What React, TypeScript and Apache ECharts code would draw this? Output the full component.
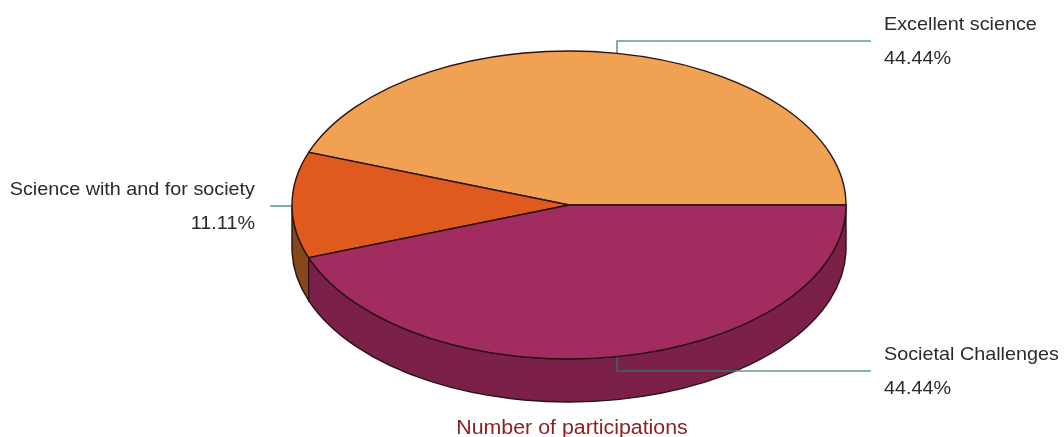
import React, { useEffect, useRef } from "react";
import * as echarts from "echarts";

const categories = ["Excellent science", "Science with and for society", "Societal Challenges"];
const participations = [4, 1, 4];
const topColors = ["#F0A252", "#DF5A1C", "#A02C60"];
const wallColors = ["#8A5A2A", "#85481A", "#7B2149"];
const chartTitle = "Number of participations";

const CX = 569;
const CY = 205;
const RX = 277;
const RY = 154;
const DEPTH = 43;
const EDGE = "#2a1210";
const LEADER = "#5E9C8C";
const LEADER_ON_WALL = "#3F4F49";
const FONT_FAMILY = '"Liberation Sans", Arial, sans-serif';
const LABEL_FONT = `18px ${FONT_FAMILY}`;
const LABEL_STRETCH = 1.1;
const TITLE_STRETCH = 1.09;

const total = participations.reduce((a, b) => a + b, 0);
const angles = (i: number) => {
  const before = participations.slice(0, i).reduce((a, b) => a + b, 0);
  const a0 = (before / total) * Math.PI * 2;
  const a1 = ((before + participations[i]) / total) * Math.PI * 2;
  return [a0, a1];
};
// Angles run anticlockwise from 3 o'clock, as on the reference.
const px = (a: number) => CX + RX * Math.cos(a);
const py = (a: number, d = 0) => CY - RY * Math.sin(a) + d;

function topPath(a0: number, a1: number) {
  const large = a1 - a0 > Math.PI ? 1 : 0;
  return `M${CX} ${CY}L${px(a0)} ${py(a0)}A${RX} ${RY} 0 ${large} 0 ${px(a1)} ${py(a1)}Z`;
}

function wallPath(a0: number, a1: number) {
  const s = Math.max(a0, Math.PI);
  const e = Math.min(a1, Math.PI * 2);
  if (e <= s) return "";
  return (
    `M${px(s)} ${py(s)}A${RX} ${RY} 0 0 0 ${px(e)} ${py(e)}` +
    `L${px(e)} ${py(e, DEPTH)}A${RX} ${RY} 0 0 1 ${px(s)} ${py(s, DEPTH)}Z`
  );
}

const walls = (_p: any, api: any) => {
  const i = api.value(0);
  const [a0, a1] = angles(i);
  const d = wallPath(a0, a1);
  if (!d) return { type: "group", children: [] };
  return {
    type: "path",
    shape: { pathData: d },
    style: { fill: wallColors[i], stroke: EDGE, lineWidth: 1.4 },
  };
};

const tops = (_p: any, api: any) => {
  const i = api.value(0);
  const [a0, a1] = angles(i);
  return {
    type: "path",
    shape: { pathData: topPath(a0, a1) },
    style: { fill: topColors[i], stroke: EDGE, lineWidth: 1.4 },
  };
};

const labels = (_p: any, api: any) => {
  const i = api.value(0);
  const [a0, a1] = angles(i);
  const mid = (a0 + a1) / 2;
  const x = Math.round(px(mid));
  const y = py(mid);
  const isLeft = Math.cos(mid) < -0.5;
  const isUp = Math.sin(mid) > 0;
  const pct = ((participations[i] / total) * 100).toFixed(2) + "%";
  const lineY = isLeft ? y + 1 : isUp ? 41 : 371;
  const line = isLeft
    ? [[x, lineY], [x - 22, lineY]]
    : [[x, y], [x, lineY], [871, lineY]];
  const textX = isLeft ? 255 : 884;
  const children: any[] = [
    {
      type: "polyline",
      shape: { points: line },
      style: { stroke: LEADER, lineWidth: 1.6, fill: "none" },
    },
  ];
  if (!isLeft && !isUp) {
    // The part of the leader that crosses the pie's wall reads darker.
    const t = (lineY - CY - DEPTH) / RY;
    const wallX = CX + RX * Math.sqrt(1 - t * t);
    children.push({
      type: "polyline",
      shape: { points: [[x, y], [x, lineY], [wallX, lineY]] },
      style: { stroke: LEADER_ON_WALL, lineWidth: 1.6, fill: "none" },
    });
  }
  const textEl = (text: string, ty: number) => ({
    type: "text",
    x: textX,
    y: ty,
    scaleX: LABEL_STRETCH,
    style: {
      text,
      x: 0,
      y: 0,
      align: isLeft ? "right" : "left",
      verticalAlign: "middle",
      font: LABEL_FONT,
      fill: "#2b2b2b",
    },
  });
  children.push(textEl(categories[i], lineY - 17), textEl(pct, lineY + 17));
  return { type: "group", children };
};

export default function App() {
  const ref = useRef<HTMLDivElement>(null);
  useEffect(() => {
    const chart = echarts.init(ref.current!, null, { renderer: "svg" });
    const data = participations.map((v, i) => [i, v]);
    chart.setOption({
      animation: false,
      backgroundColor: "#ffffff",
      graphic: [
        {
          type: "text",
          x: 572,
          y: 427,
          scaleX: TITLE_STRETCH,
          style: {
            text: chartTitle,
            x: 0,
            y: 0,
            align: "center",
            verticalAlign: "middle",
            font: `19.6px ${FONT_FAMILY}`,
            fill: "#8E2020",
          },
        },
      ],
      series: [
        { type: "custom", coordinateSystem: "none", renderItem: walls, data, silent: true, z: 1 },
        { type: "custom", coordinateSystem: "none", renderItem: labels, data, silent: true, z: 2 },
        { type: "custom", coordinateSystem: "none", renderItem: tops, data, silent: true, z: 3 },
      ],
    });
    return () => chart.dispose();
  }, []);
  return (
    <div
      ref={ref}
      style={{ position: "absolute", left: 0, top: 0, width: 1064, height: 437, filter: "blur(0.5px)" }}
    />
  );
}
